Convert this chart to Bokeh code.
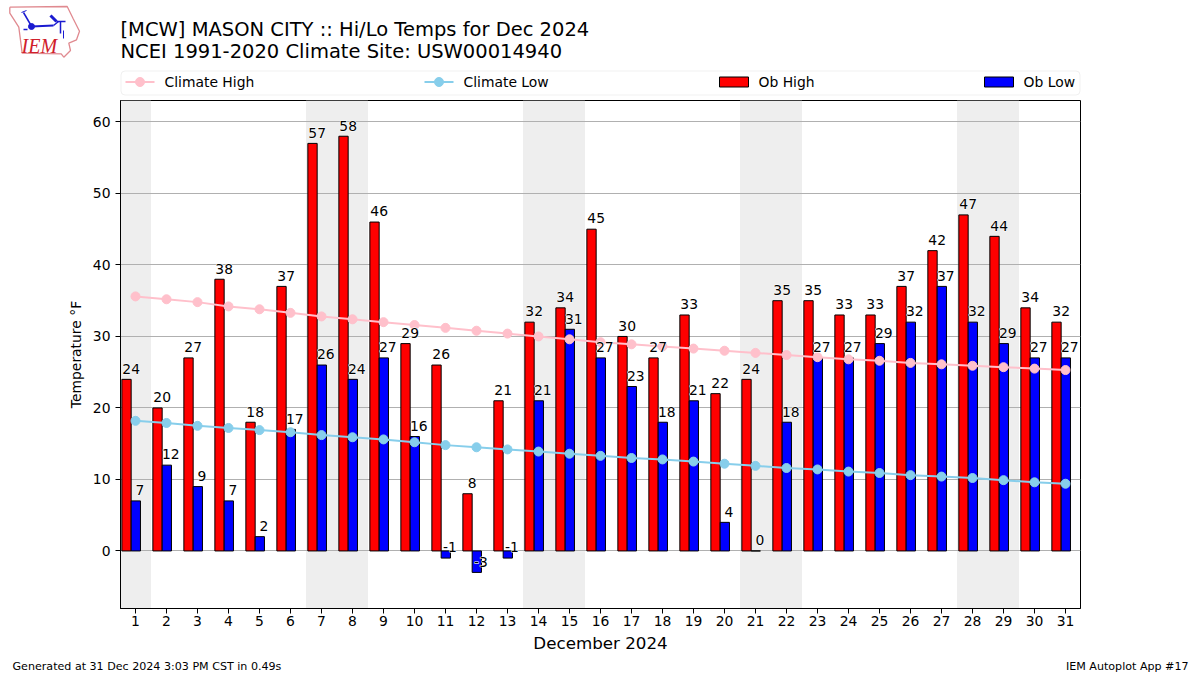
from bokeh.plotting import figure
from bokeh.embed import file_html
from bokeh.resources import INLINE
from bokeh.models import ColumnDataSource, FixedTicker, BoxAnnotation
from bokeh.core.properties import value

TITLE_1 = "[MCW] MASON CITY :: Hi/Lo Temps for Dec 2024"
TITLE_2 = "NCEI 1991-2020 Climate Site: USW00014940"
FOOT_L = "Generated at 31 Dec 2024 3:03 PM CST in 0.49s"
FOOT_R = "IEM Autoplot App #17"
days = list(range(1, 32))
ob_high = [24,20,27,38,18,37,57,58,46,29,26,8,21,32,34,45,30,27,33,22,24,35,35,33,33,37,42,47,44,34,32]
ob_low = [7,12,9,7,2,17,26,24,27,16,-1,-3,-1,21,31,27,23,18,21,4,0,18,27,27,29,32,37,32,29,27,27]
climate_high = [35.6,35.2,34.8,34.2,33.8,33.3,32.8,32.4,32.0,31.6,31.2,30.8,30.4,30.0,29.6,29.2,28.9,28.6,28.3,28.0,27.7,27.4,27.1,26.8,26.6,26.3,26.1,25.9,25.7,25.5,25.3]
climate_low = [18.2,17.9,17.5,17.2,16.9,16.6,16.2,15.9,15.6,15.2,14.8,14.5,14.2,13.9,13.6,13.3,13.0,12.8,12.5,12.2,11.9,11.6,11.4,11.1,10.9,10.6,10.4,10.2,9.9,9.6,9.4]
weekend_spans = [(0.516, 1.5), (6.5, 8.5), (13.5, 15.5), (20.5, 22.5), (27.5, 29.5)]
y_ticks = [0, 10, 20, 30, 40, 50, 60]

FONT = "DejaVu Sans"
W = 1200
HEAD_H, FOOT_H = 99, 20
MAIN_H = 675 - HEAD_H - FOOT_H
FRAME_BOTTOM = 608

def pixel_strip(height, y_top):
    """A frameless strip whose data coordinates are page pixels."""
    f = figure(width=W, height=height, output_backend="svg", toolbar_location=None,
               x_range=(0, W), y_range=(y_top + height, y_top), x_axis_type=None, y_axis_type=None,
               min_border=0, min_border_left=0, min_border_right=0, min_border_top=0, min_border_bottom=0)
    f.outline_line_color = None
    f.grid.visible = False
    return f

def put_text(f, x, y, text, size, align="left", font=FONT, color="black", style="normal"):
    f.text([x], [y], text=[text], text_font=value(font), text_font_size=size, text_align=align,
           text_baseline="alphabetic", text_color=color, text_font_style=style)

# ---- header: logo, titles, legend
head = pixel_strip(HEAD_H, 0)
put_text(head, 120, 29, TITLE_1, "19.5px")
put_text(head, 120, 51, TITLE_2, "19.5px")
out_x = [9.3,66.7,72.7,79,76,68.3,70,63.3,60.7,21.7,18.3,9.3]
out_y = [6.7,6,18.3,30.7,39.3,42.7,50,56.7,53.3,52.7,26.7,12.7]
head.line(out_x + out_x[:1], out_y + out_y[:1], line_color="#e08a90", line_width=1.3)
BLUE = "#1a1ad0"
for xs, ys, lw in (([31, 53], [26, 25], 2), ([53, 58], [25, 21], 1.5), ([50, 56], [15, 21], 3),
                   ([56, 65], [21, 21], 1.5), ([60, 60], [21, 33], 1.5), ([63, 63], [30, 38], 1),
                   ([23, 30], [12, 24], 1.5), ([21, 26], [12, 10], 1), ([23, 27], [29, 29], 1.5)):
    head.line(xs, ys, line_color=BLUE, line_width=lw)
head.scatter([31], [26], size=6, fill_color=BLUE, line_color=BLUE)
put_text(head, 21, 45, "IEM", "20px", font="Liberation Serif", color="#d0202a", style="italic")

head.add_layout(BoxAnnotation(left=120.5, right=1079.5, top=70.5, bottom=94.5, border_radius=4,
                              fill_color="white", fill_alpha=0.8, line_color="#cccccc", line_width=1,
                              level="underlay"))
KEY_Y = 81.5
for x0, colour, label in ((125, "pink", "Climate High"), (424, "skyblue", "Climate Low")):
    head.line([x0, x0 + 29], [KEY_Y, KEY_Y], line_color=colour, line_width=2)
    head.scatter([x0 + 14.5], [KEY_Y], size=9, fill_color=colour, line_color=colour)
    put_text(head, x0 + 39, KEY_Y, label, "13.9px")
for x0, colour, label in ((719, "red", "Ob High"), (984, "blue", "Ob Low")):
    head.quad(left=[x0], right=[x0 + 29], top=[76.5], bottom=[86.5], fill_color=colour, line_color="black", line_width=1)
    put_text(head, x0 + 39, KEY_Y, label, "13.9px")

# ---- main chart
p = figure(width=W, height=MAIN_H, output_backend="svg", toolbar_location=None,
           x_range=(0.516, 31.484), y_range=(-8.05, 63.0),
           min_border_left=120, min_border_right=120, min_border_top=1,
           min_border_bottom=HEAD_H + MAIN_H - FRAME_BOTTOM)
p.outline_line_color = "black"
p.outline_line_width = 1
p.xgrid.visible = False
p.ygrid.grid_line_color = "#b0b0b0"
p.ygrid.grid_line_width = 1
p.ygrid.level = "underlay"
p.xaxis.ticker = FixedTicker(ticks=days)
p.yaxis.ticker = FixedTicker(ticks=y_ticks)
for ax in (p.xaxis[0], p.yaxis[0]):
    ax.major_label_text_font = FONT
    ax.major_label_text_font_size = "13.9px"
    ax.major_label_text_color = "black"
    ax.axis_label_text_font = FONT
    ax.axis_label_text_font_style = "normal"
    ax.axis_label_text_color = "black"
    ax.major_tick_line_color = "black"
    ax.major_tick_in = 0
    ax.major_tick_out = 5
    ax.minor_tick_line_color = None
    ax.axis_line_color = "black"
p.xaxis.axis_label = "December 2024"
p.xaxis.axis_label_text_font_size = "16.7px"
p.xaxis.axis_label_standoff = 4
p.xaxis.major_label_standoff = 2
p.yaxis.axis_label = "Temperature °F"
p.yaxis.axis_label_text_font_size = "13.9px"
p.yaxis.axis_label_standoff = 6
p.yaxis.major_label_orientation = "horizontal"

p.quad(left=[s[0] for s in weekend_spans], right=[s[1] for s in weekend_spans],
       bottom=-8.05, top=63.0, fill_color="#eeeeee", line_color=None, level="underlay")

BW = 0.30
src = ColumnDataSource(dict(day=days, hi=ob_high, lo=ob_low, ch=climate_high, cl=climate_low,
                            hx=[d - 0.29 for d in days], lx=[d + 0.01 for d in days],
                            hl=[str(v) for v in ob_high], ll=[str(v) for v in ob_low],
                            hy=[v + 1.5 for v in ob_high], ly=[v + 1.5 for v in ob_low],
                            htx=[d - 0.14 for d in days], ltx=[d + 0.14 for d in days]))
p.vbar(x="hx", top="hi", bottom=0, width=BW, source=src, fill_color="red", line_color="black", line_width=1)
p.vbar(x="lx", top="lo", bottom=0, width=BW, source=src, fill_color="blue", line_color="black", line_width=1)
p.line("day", "ch", source=src, line_color="pink", line_width=2)
p.scatter("day", "ch", source=src, size=9, fill_color="pink", line_color="pink")
p.line("day", "cl", source=src, line_color="skyblue", line_width=2)
p.scatter("day", "cl", source=src, size=9, fill_color="skyblue", line_color="skyblue")

for tx, ty, lab in (("htx", "hy", "hl"), ("ltx", "ly", "ll")):
    p.text(tx, ty, text=lab, source=src, text_font=value(FONT), text_font_size="13.9px",
           text_align="center", text_baseline="alphabetic", text_color="white",
           text_outline_color="white")
    p.text(tx, ty, text=lab, source=src, text_font=value(FONT), text_font_size="13.9px",
           text_align="center", text_baseline="alphabetic", text_color="black")

# ---- footer
foot = pixel_strip(FOOT_H, HEAD_H + MAIN_H)
put_text(foot, 12, 666, FOOT_L, "11.1px")
put_text(foot, 1188, 666, FOOT_R, "11.1px", align="right")

open("out.html", "w").write(file_html([head, p, foot], INLINE))
